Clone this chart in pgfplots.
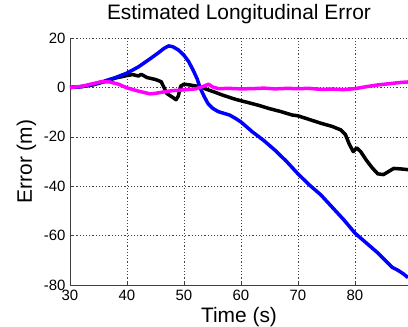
\documentclass[border=0pt]{standalone}
\usepackage{fontspec}
\setmainfont{Liberation Sans}
\usepackage{pgfplots}
\pgfplotsset{compat=1.18}
\definecolor{mymag}{RGB}{255,0,255}
\definecolor{myblue}{RGB}{0,0,255}
\begin{document}
\begin{tikzpicture}
\begin{axis}[
  at={(0,0)}, anchor=south west,
  scale only axis, width=338bp, height=247bp,
  xmin=30, xmax=89.3, ymin=-80, ymax=20,
  xtick={30,40,...,80}, ytick={-80,-60,...,20},
  axis x line*=bottom, axis y line*=left,
  axis line style={line width=0.8pt, black!75},
  tick align=inside, major tick length=4bp,
  tick style={black!75, line width=0.6pt},
  grid=major,
  grid style={black!75, line width=0.6pt, dash pattern=on 1.2bp off 2bp},
  /pgf/number format/assume math mode=true,
  ticklabel style={font=\fontsize{15}{18}\selectfont},
  xticklabel style={yshift=-2bp},
  yticklabel style={xshift=-1bp},
  title={Estimated Longitudinal Error},
  title style={at={(axis description cs:0.5,1)}, anchor=base, yshift=13bp, font=\fontsize{21}{25}\selectfont},
  xlabel={Time (s)},
  xlabel style={at={(axis description cs:0.5,0)}, anchor=base, yshift=-37bp, font=\fontsize{21}{25}\selectfont},
  ylabel={Error (m)},
  ylabel style={at={(axis description cs:0,0.5)}, anchor=base, yshift=38bp, font=\fontsize{21}{25}\selectfont},
  clip=true,
]
\addplot[black, line width=3.5bp, line join=round] coordinates {
(30,0) (32,0.3) (34,1) (36,2.3) (38,3.8) (40,4.8) (41,5.2) (42,4.6) (42.5,5.3) (43.5,4)
(45,3.2) (46,2.3) (47,-2.5) (48,-4) (48.6,-5) (49,-3.5) (49.4,0.5) (50,1.3) (51,1)
(52,0.6) (53,0.2) (54,-0.8) (55,-1.6) (57,-3.3) (59,-4.8) (61,-6) (63,-7.2) (65,-8.6)
(67,-9.8) (69,-11.2) (70,-11.5) (72,-13) (74,-14.5) (76,-15.8) (77.5,-17.2) (78.3,-19)
(79,-23) (79.7,-26) (80.3,-24.5) (81,-26) (82,-29.5) (83,-32.5) (84,-35) (85,-35.3)
(85.8,-34.2) (86.8,-32.8) (88,-33) (89.3,-33.3)
};
\addplot[myblue, line width=3.5bp, line join=round] coordinates {
(30,0) (32,0.3) (34,1.2) (36,2.5) (38,4) (40,5.8) (42,8.3) (44,11.5) (45.5,14) (46.5,15.8)
(47.3,16.8) (48,16.5) (49,15.2) (50,13) (50.8,10.5) (51.6,7) (52.3,3.5) (52.8,0)
(53.5,-3.5) (54.2,-6.5) (55,-8.4) (56,-9.8) (57,-10.5) (58,-11.2) (59,-12.5) (60,-14)
(61,-16) (62,-18) (64,-21.5) (66,-25.5) (68,-30) (70,-35) (72,-39.5) (74,-43.5)
(76,-48.5) (78,-53.5) (80,-59) (82,-63) (84,-67) (85.5,-70.5) (86.5,-72.8) (87.5,-74)
(88.5,-75.5) (89.3,-77)
};
\addplot[mymag, line width=3.5bp, line join=round] coordinates {
(30,0) (32,0.4) (34,1.5) (35.5,2.3) (37,2.2) (38.5,1.3) (40,-0.2) (42,-1.5) (44,-2.6)
(45,-2.4) (46.5,-1.8) (48,-1.3) (50,-1) (52,-0.6) (53.5,0.5) (54.3,1.3) (55,0.2)
(56,-0.5) (58,-0.4) (60,-0.6) (62,-0.5) (64,-0.3) (66,-0.6) (68,-0.4) (70,-0.5)
(72,-0.4) (74,-0.8) (76,-0.7) (78,-0.9) (80,-0.5) (82,0.3) (84,1) (86,1.5) (88,2) (89.3,2.2)
};
\end{axis}
\pgfresetboundingbox
\path[use as bounding box] (-70bp,-42bp) rectangle (338bp,285bp);
\end{tikzpicture}
\end{document}
